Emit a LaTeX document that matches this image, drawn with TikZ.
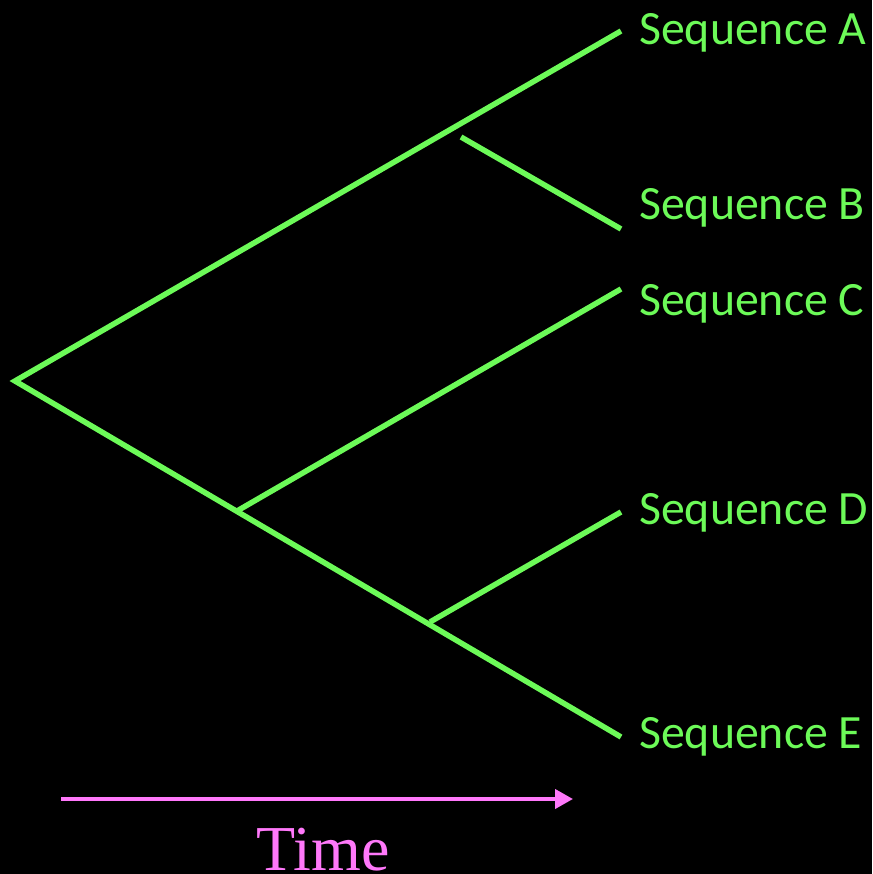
\documentclass[tikz,border=0pt]{standalone}
\usepackage{fontspec}
\setmainfont{Carlito}
\newfontfamily\timesfont{Liberation Serif}
\usetikzlibrary{arrows.meta}
\definecolor{tgreen}{RGB}{108,250,88}
\definecolor{tpink}{RGB}{255,120,250}
\begin{document}
\begin{tikzpicture}[x=1pt,y=-1pt,
  branch/.style={draw=tgreen,line width=5.5pt},
  seqlabel/.style={anchor=base west,inner sep=0pt,text=tgreen,font=\fontsize{47.8}{50}\selectfont}]
\fill[black] (0,0) rectangle (872,874);
\useasboundingbox (0,0) rectangle (872,874);
\coordinate (root) at (15,381);
\coordinate (a) at (621,31);
\coordinate (bs) at (461,137);
\coordinate (b) at (621,229);
\coordinate (cs) at (237,511);
\coordinate (c) at (621,289);
\coordinate (ds) at (430,622);
\coordinate (d) at (621,512);
\coordinate (e) at (621,737);
\draw[branch] (a) -- (root) -- (e);
\draw[branch] (bs) -- (b);
\draw[branch] (cs) -- (c);
\draw[branch] (ds) -- (d);
\node[seqlabel] (la) at (639,45) {Sequence A};
\node[seqlabel] (lb) at (639,220) {Sequence B};
\node[seqlabel] (lc) at (639,315) {Sequence C};
\node[seqlabel] (ld) at (639,524) {Sequence D};
\node[seqlabel] (le) at (639,748) {Sequence E};
\coordinate (t0) at (61,799);
\coordinate (t1) at (573,799);
\draw[draw=tpink,line width=4pt,-{Triangle[length=18pt,width=19pt]}] (t0) -- (t1);
\node[anchor=base,inner sep=0pt,text=tpink,font=\timesfont\fontsize{64}{66}\selectfont] (time) at (323,870) {Time};
\end{tikzpicture}
\end{document}
